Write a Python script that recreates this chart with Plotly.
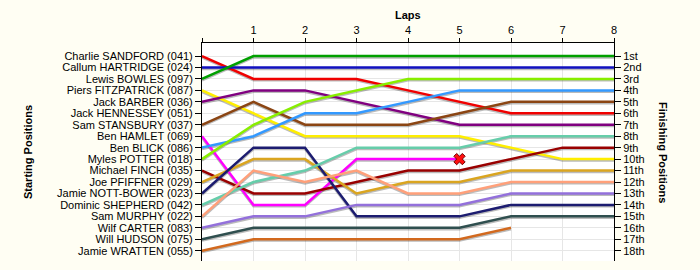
import plotly.graph_objects as go

# ---------------- data ----------------
drivers = [
    "Charlie SANDFORD (041)", "Callum HARTRIDGE (024)", "Lewis BOWLES (097)",
    "Piers FITZPATRICK (087)", "Jack BARBER (036)", "Jack HENNESSEY (051)",
    "Sam STANSBURY (037)", "Ben HAMLET (069)", "Ben BLICK (086)",
    "Myles POTTER (018)", "Michael FINCH (035)", "Joe PFIFFNER (029)",
    "Jamie NOTT-BOWER (023)", "Dominic SHEPHERD (042)", "Sam MURPHY (022)",
    "Wilf CARTER (083)", "Will HUDSON (075)", "Jamie WRATTEN (055)",
]
finish_labels = ["1st", "2nd", "3rd", "4th", "5th", "6th", "7th", "8th", "9th",
                 "10th", "11th", "12th", "13th", "14th", "15th", "16th", "17th", "18th"]
laps = [0, 1, 2, 3, 4, 5, 6, 7, 8]
lap_labels = ["", "1", "2", "3", "4", "5", "6", "7", "8"]

sandford = [1, 3, 3, 3, 4, 5, 6, 6, 6]
hartridge = [2, 2, 2, 2, 2, 2, 2, 2, 2]
bowles = [3, 1, 1, 1, 1, 1, 1, 1, 1]
fitzpatrick = [4, 6, 8, 8, 8, 8, 9, 10, 10]
barber = [5, 4, 4, 5, 6, 7, 7, 7, 7]
hennessey = []
stansbury = [7, 5, 7, 7, 7, 6, 5, 5, 5]
hamlet = [8, 14, 14, 10, 10, 10]
blick = [9, 8, 6, 6, 5, 4, 4, 4, 4]
potter = [10, 7, 5, 4, 3, 3, 3, 3, 3]
finch = [11, 13, 13, 12, 11, 11, 10, 9, 9]
pfiffner = [12, 10, 10, 13, 12, 12, 11, 11, 11]
nott_bower = [13, 9, 9, 15, 15, 15, 14, 14, 14]
shepherd = [14, 12, 11, 9, 9, 9, 8, 8, 8]
murphy = [15, 11, 12, 11, 13, 13, 12, 12, 12]
carter = [16, 15, 15, 14, 14, 14, 13, 13, 13]
hudson = [17, 16, 16, 16, 16, 16, 15, 15, 15]
wratten = [18, 17, 17, 17, 17, 17, 16]

series = [sandford, hartridge, bowles, fitzpatrick, barber, hennessey, stansbury,
          hamlet, blick, potter, finch, pfiffner, nott_bower, shepherd, murphy,
          carter, hudson, wratten]
colors = ["#F00000", "#1010C0", "#00A000", "#FFEE00", "#800080", "#888888",
          "#8B4513", "#FF00FF", "#3399FF", "#88EE00", "#990000", "#DAA520",
          "#1C1C70", "#66CDAA", "#FFA07A", "#9370DB", "#2F4F4F", "#D2691E"]

dnf_driver = "Ben HAMLET (069)"

# ---------------- figure ----------------
fig = go.Figure()
Y_RANGE = [18.9, -0.14]
SHADOW = 0.12  # shadow offset in row units

for name, vals, col in zip(drivers, series, colors):
    if not vals:
        continue
    fig.add_trace(go.Scatter(x=laps[:len(vals)], y=vals, mode="lines",
                             line=dict(color="rgba(60,60,60,0.35)", width=2.5),
                             xaxis="x", yaxis="y", hoverinfo="skip", showlegend=False))
for name, vals, col in zip(drivers, series, colors):
    if not vals:
        continue
    fig.add_trace(go.Scatter(x=laps[:len(vals)], y=vals, mode="lines", name=name,
                             line=dict(color=col, width=2.5),
                             xaxis="x", yaxis="y2", showlegend=False))

i = drivers.index(dnf_driver)
v = series[i]
fig.add_trace(go.Scatter(x=[laps[len(v) - 1]], y=[v[-1]], mode="markers",
                         marker=dict(symbol="x", size=10, color="#FF1010",
                                     line=dict(color="#700000", width=1)),
                         xaxis="x", yaxis="y2", showlegend=False))

font = dict(family="Liberation Sans, Arial, sans-serif", size=11, color="#000000")
fig.update_layout(
    width=700, height=270,
    margin=dict(l=202, r=86, t=43, b=9),
    paper_bgcolor="#FFFEF3", plot_bgcolor="#FFFFFF",
    font=font, showlegend=False,
    xaxis=dict(side="top", range=[0, 8], tickvals=laps, ticktext=lap_labels,
               ticks="outside", ticklen=4, tickcolor="#000", showline=True,
               linecolor="#000", linewidth=1, showgrid=True, gridcolor="#E6E6E6",
               zeroline=False, mirror=False, fixedrange=True),
    yaxis=dict(range=[Y_RANGE[0] - SHADOW, Y_RANGE[1] - SHADOW], visible=False,
               showgrid=False, zeroline=False),
    yaxis2=dict(range=Y_RANGE, overlaying="y", side="left", anchor="x",
                tickvals=list(range(1, 19)), ticktext=drivers,
                ticks="outside", ticklen=6, tickcolor="#000", showline=True,
                linecolor="#000", linewidth=1, showgrid=True, gridcolor="#E6E6E6",
                zeroline=False),
    yaxis3=dict(range=Y_RANGE, overlaying="y", side="right", anchor="x",
                tickvals=list(range(1, 19)), ticktext=finish_labels,
                ticks="outside", ticklen=6, tickcolor="#000", showline=True,
                linecolor="#000", linewidth=1, showgrid=False, zeroline=False),
    annotations=[
        dict(text="<b>Laps</b>", xref="paper", yref="paper", x=0.5, y=1,
             yshift=28, showarrow=False, xanchor="center", yanchor="middle",
             font=dict(size=11)),
        dict(text="<b>Starting Positions</b>", xref="paper", yref="paper",
             x=0, xshift=-174, y=0.5, showarrow=False, textangle=-90,
             xanchor="center", yanchor="middle", font=dict(size=11)),
        dict(text="<b>Finishing Positions</b>", xref="paper", yref="paper",
             x=1, xshift=49, y=0.5, showarrow=False, textangle=90,
             xanchor="center", yanchor="middle", font=dict(size=11)),
    ],
)
# dummy trace to make yaxis3 render
fig.add_trace(go.Scatter(x=[None], y=[None], xaxis="x", yaxis="y3",
                         showlegend=False, hoverinfo="skip"))

fig.write_html("out.html")
